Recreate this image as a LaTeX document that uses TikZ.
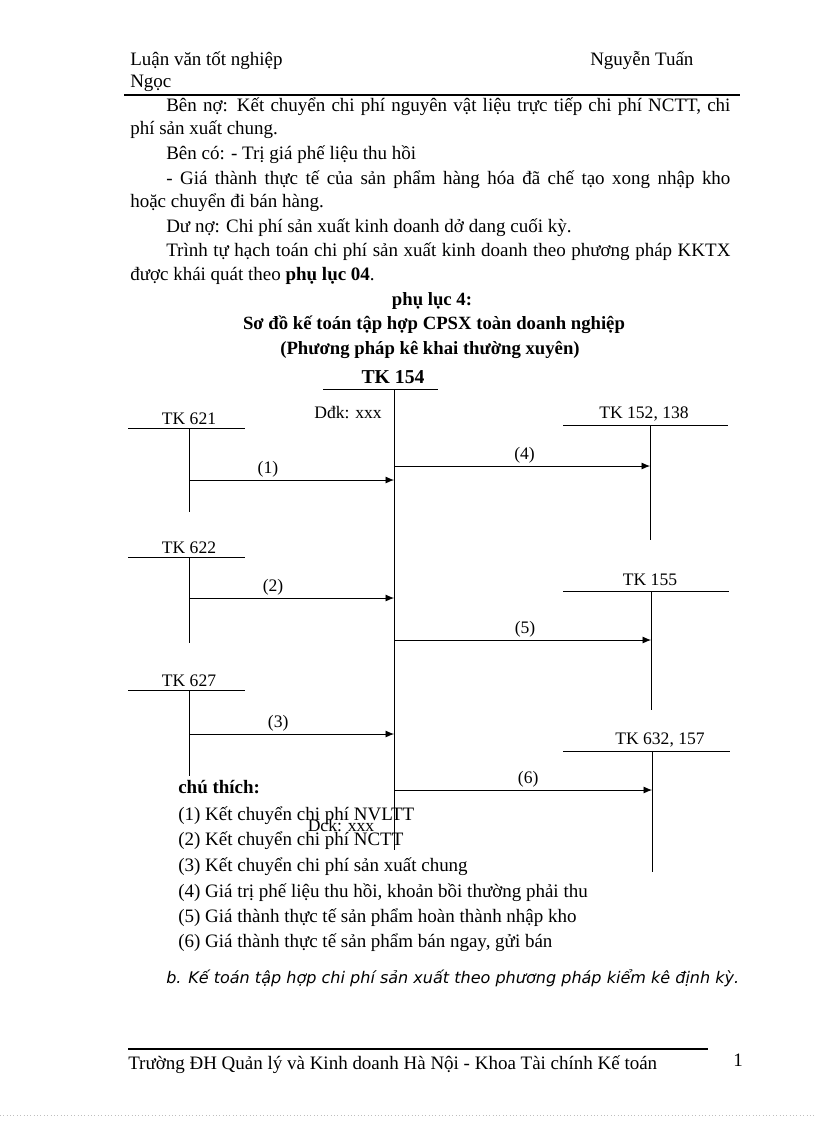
\documentclass[tikz,border=0pt]{standalone}
\usepackage{fontspec}
\setmainfont{Liberation Serif}
\newfontfamily\notefont{DejaVu Sans}
\usetikzlibrary{arrows.meta}
\tikzset{
  txt/.style={anchor=base west, inner sep=0pt},
  acct/.style={inner sep=0pt, font=\fontsize{12.5}{15}\selectfont},
  tline/.style={line width=0.6pt},
  flow/.style={line width=0.6pt, -{Latex[length=6pt,width=5pt]}},
  num/.style={above, inner sep=1.5pt, font=\fontsize{12.5}{15}\selectfont}
}
\begin{document}
\begin{tikzpicture}[x=0.025cm, y=-0.025cm, font=\fontsize{13.5}{16}\selectfont, line join=round]
	\def\wa{14.1cm} % dong thut dau
	\useasboundingbox (0,0) rectangle (816,1123);
	% tieu de trang
	\node[txt] (hd1) at (130,66) {Luận văn tốt nghiệp};
	\node[txt] (hd2) at (590,66) {Nguyễn Tuấn};
	\node[txt] (hd3) at (130,88) {Ngọc};
	\draw[line width=1.2pt] (124,95) -- (740,95);
	% doan van
	\node[txt] (p1) at (166,112) {\makebox[\wa][s]{Bên nợ: Kết chuyển chi phí nguyên vật liệu trực tiếp chi phí NCTT, chi}};
	\node[txt] (p2) at (130,135) {phí sản xuất chung.};
	\node[txt] (p3) at (166,160) {Bên có: - Trị giá phế liệu thu hồi};
	\node[txt] (p4) at (166,184) {\makebox[\wa][s]{- Giá thành thực tế của sản phẩm hàng hóa đã chế tạo xong nhập kho}};
	\node[txt] (p5) at (130,207) {hoặc chuyển đi bán hàng.};
	\node[txt] (p6) at (166,232) {Dư nợ: Chi phí sản xuất kinh doanh dở dang cuối kỳ.};
	\node[txt] (p7) at (166,256) {\makebox[\wa][s]{Trình tự hạch toán chi phí sản xuất kinh doanh theo phương pháp KKTX}};
	\node[txt] (p8) at (130,280) {được khái quát theo \textbf{phụ lục 04}.};
	% ten so do
	\node[anchor=base, inner sep=0pt, font=\fontsize{13.3}{15}\bfseries] (t1) at (432,305) {phụ lục 4:};
	\node[anchor=base, inner sep=0pt, font=\fontsize{13.3}{15}\bfseries] (t2) at (434,329) {Sơ đồ kế toán tập hợp CPSX toàn doanh nghiệp};
	\node[anchor=base, inner sep=0pt, font=\fontsize{13.3}{15}\bfseries] (t3) at (430,354) {(Phương pháp kê khai thường xuyên)};
	% TK 154
	\node[inner sep=0pt, font=\fontsize{14}{16}\bfseries] (tk154) at (393,377) {TK 154};
	\draw[tline] (323,389) -- (438,389);
	\coordinate (m0) at (394,389);
	\coordinate (m9) at (394,850);
	\draw[tline] (m0) -- (m9);
	\node[acct] (ddk) at (348,413) {Dđk: xxx};
	\node[acct] (dck) at (341,826) {Dck: xxx};
	% tai khoan ben trai
	\foreach \n/\y/\e/\a/\l/\p in {621/428/512/480/1/0.385, 622/557/643/598/2/0.41, 627/690/776/734/3/0.435}{
		\node[acct] (tk\n) at (189,\y-9) {TK \n};
		\draw[tline] (128,\y) -- (245,\y);
		\coordinate (tk\n top) at (189,\y);
		\coordinate (tk\n end) at (189,\e);
		\draw[tline] (tk\n top) -- (tk\n end);
		\coordinate (s\l) at (189,\a);
		\coordinate (d\l) at (394,\a);
		\draw[flow] (s\l) -- node[num, pos=\p] {(\l)} (d\l);
	}
	% tai khoan ben phai
	\foreach \n/\x/\y/\e/\a/\l/\p/\q in {{152, 138}/650/425/540/466/4/0.51/644, 155/651/591/710/640/5/0.51/650, {632, 157}/652/751/872/790/6/0.52/660}{
		\node[acct] (r\l) at (\q,\y-11) {TK \n};
		\draw[tline] (563,\y) -- (\x+78,\y);
		\coordinate (r\l top) at (\x,\y);
		\coordinate (r\l end) at (\x,\e);
		\draw[tline] (r\l top) -- (r\l end);
		\coordinate (s\l) at (394,\a);
		\coordinate (d\l) at (\x,\a);
		\draw[flow] (s\l) -- node[num, pos=\p] {(\l)} (d\l);
	}
	% chu thich
	\node[txt, font=\fontsize{13.5}{16}\bfseries] (ct) at (178,793) {chú thích:};
	\node[txt] (c1) at (178,820) {(1) Kết chuyển chi phí NVLTT};
	\node[txt] (c2) at (178,845) {(2) Kết chuyển chi phí NCTT};
	\node[txt] (c3) at (178,871) {(3) Kết chuyển chi phí sản xuất chung};
	\node[txt] (c4) at (178,897) {(4) Giá trị phế liệu thu hồi, khoản bồi thường phải thu};
	\node[txt] (c5) at (178,922) {(5) Giá thành thực tế sản phẩm hoàn thành nhập kho};
	\node[txt] (c6) at (178,947) {(6) Giá thành thực tế sản phẩm bán ngay, gửi bán};
	\node[txt, font=\notefont\itshape\fontsize{11.4}{13}\selectfont] (pb) at (166,983) {b. Kế toán tập hợp chi phí sản xuất theo phương pháp kiểm kê định kỳ.};
	% chan trang
	\draw[line width=1.2pt] (128,1049) -- (708,1049);
	\node[txt] (ft) at (128,1069) {Trường ĐH Quản lý và Kinh doanh Hà Nội - Khoa Tài chính Kế toán};
	\node[txt] (pg) at (733,1066) {1};
	\draw[gray!50, dotted] (0,1115) -- (816,1115);
\end{tikzpicture}
\end{document}
